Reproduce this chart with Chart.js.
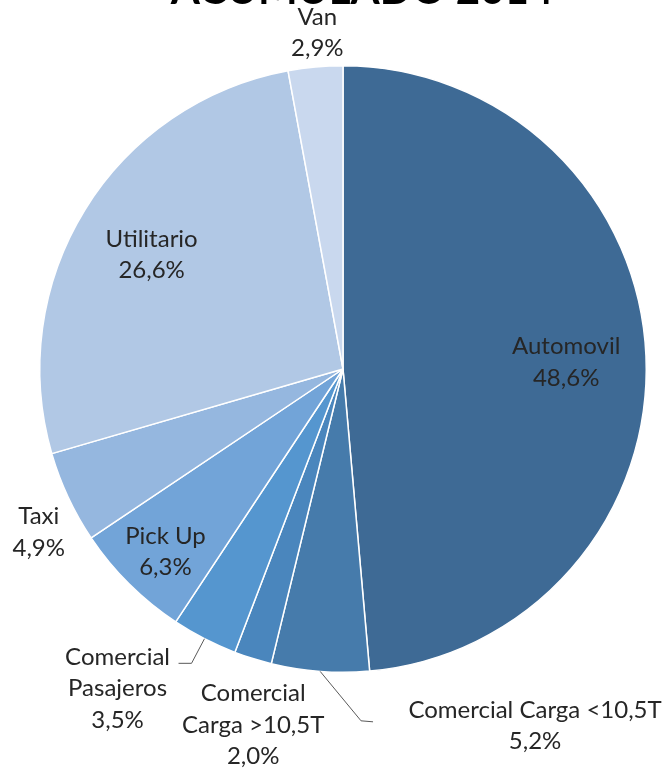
<!DOCTYPE html>
<html>

<head>
    <title>Acumulado 2014</title>
    <script src="https://cdn.jsdelivr.net/npm/chart.js"></script>
    <style>
        body { margin: 0; background: #fff; }
    </style>
</head>

<body>
    <div style="width:667px;height:771px;position:relative;">
        <canvas id="pieChart"></canvas>
    </div>

    <script>
        // datos
        var categorias = ['Automovil', 'Comercial Carga <10,5T', 'Comercial Carga >10,5T', 'Comercial Pasajeros',
            'Pick Up', 'Taxi', 'Utilitario', 'Van'];
        var porcentajes = [48.6, 5.2, 2.0, 3.5, 6.3, 4.9, 26.6, 2.9];
        var colores = ['#3e6a95', '#467bab', '#4a86bd', '#5596cf', '#72a4d8', '#95b7df', '#b1c8e5', '#c9d8ee'];

        // etiquetas: lineas de texto, factor radial, ajuste
        var etiquetas = [
            { lineas: ['Automovil'], f: 0.73, dx: 2, dy: 3 },
            { lineas: ['Comercial Carga <10,5T'], f: 1.18, dx: 219, dy: 0, guia: [[-174, -5], [-162, -4]] },
            { lineas: ['Comercial', 'Carga >10,5T'], f: 1.23, dx: 21, dy: 0 },
            { lineas: ['Comercial', 'Pasajeros'], f: 1.18, dx: -62, dy: 1, guia: [[74, -25], [61, -25]] },
            { lineas: ['Pick Up'], f: 0.84, dx: 2, dy: 2 },
            { lineas: ['Taxi'], f: 1.14, dx: 9, dy: 17 },
            { lineas: ['Utilitario'], f: 0.73, dx: -3, dy: 2 },
            { lineas: ['Van'], f: 1.113, dx: 5, dy: 0 }
        ];

        var pluginEtiquetas = {
            id: 'etiquetas',
            afterDatasetsDraw: function (chart) {
                var ctx = chart.ctx;
                var meta = chart.getDatasetMeta(0);
                ctx.save();
                ctx.font = '24px Lato';
                ctx.fillStyle = '#262626';
                ctx.textAlign = 'center';
                ctx.textBaseline = 'middle';
                meta.data.forEach(function (arc, i) {
                    var e = etiquetas[i];
                    var mid = (arc.startAngle + arc.endAngle) / 2;
                    var r = arc.outerRadius;
                    var x = arc.x + Math.cos(mid) * r * e.f + e.dx;
                    var y = arc.y + Math.sin(mid) * r * e.f + e.dy;
                    var lineas = e.lineas.concat([porcentajes[i].toFixed(1).replace('.', ',') + '%']);
                    var alto = 31.5;
                    var y0 = y - (lineas.length - 1) * alto / 2;
                    lineas.forEach(function (t, k) {
                        ctx.fillText(t, x, y0 + k * alto);
                    });
                    if (e.guia) {
                        ctx.strokeStyle = '#595959';
                        ctx.lineWidth = 1;
                        ctx.beginPath();
                        ctx.moveTo(arc.x + Math.cos(mid) * r, arc.y + Math.sin(mid) * r);
                        e.guia.forEach(function (p) {
                            ctx.lineTo(x + p[0], y + p[1]);
                        });
                        ctx.stroke();
                    }
                });
                // titulo (cortado arriba)
                ctx.font = 'bold 42px Lato';
                ctx.fillStyle = '#000';
                ctx.textBaseline = 'alphabetic';
                ctx.fillText('ACUMULADO 2014', 362, 4);
                ctx.restore();
            }
        };

        var ctx = document.getElementById('pieChart').getContext('2d');
        new Chart(ctx, {
            type: 'pie',
            data: {
                labels: categorias,
                datasets: [{
                    data: porcentajes,
                    backgroundColor: colores,
                    borderColor: '#ffffff',
                    borderWidth: 1.5
                }]
            },
            options: {
                responsive: true,
                maintainAspectRatio: false,
                animation: false,
                layout: {
                    padding: { top: 65, bottom: 98, left: 39, right: 20 }
                },
                plugins: {
                    legend: { display: false },
                    tooltip: { enabled: false }
                }
            },
            plugins: [pluginEtiquetas]
        });
    </script>

</body>

</html>
